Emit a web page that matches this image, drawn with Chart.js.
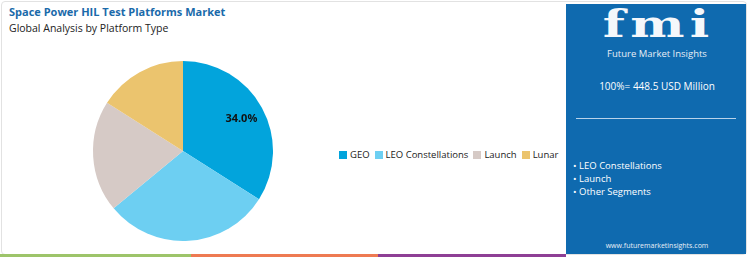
<!DOCTYPE html>
<html>
<head>
<meta charset="utf-8">
<script src="https://cdn.jsdelivr.net/npm/chart.js@4.4.1/dist/chart.umd.min.js"></script>
<style>
  html, body { margin: 0; padding: 0; background: #fff; }
  body { width: 750px; height: 258px; position: relative; overflow: hidden; font-family: "Open Sans", sans-serif; }
  .card { position: absolute; left: 1px; top: 1px; width: 746px; height: 254px; border: 1px solid #e2e2e2; border-radius: 4px; box-sizing: border-box; }
  .title { position: absolute; left: 9px; top: 4px; font-size: 11px; line-height: 15px; font-weight: 700; color: #1a6aaa; }
  .subtitle { position: absolute; left: 9px; top: 21px; font-size: 10.5px; line-height: 15px; color: #222; }
  #pieWrap { position: absolute; left: 88px; top: 56px; width: 190px; height: 190px; }
  #legend { position: absolute; left: 339px; top: 148px; font-size: 9.5px; line-height: 14px; color: #222; white-space: nowrap; display: flex; align-items: center; }
  #legend span.box { display: inline-block; width: 8px; height: 8px; margin-right: 3px; }
  #legend span.item { display: inline-flex; align-items: center; margin-right: 5px; }
  .stripe { position: absolute; top: 254px; height: 3px; }
  .panel { position: absolute; left: 566px; top: 4px; width: 180px; height: 250px; background: #0f6aaf; color: #fff; }
  .logo { position: absolute; left: 0; width: 180px; top: 1px; height: 38px; padding-left: 4px; box-sizing: border-box; text-align: center; font-family: "DejaVu Serif", serif; font-weight: 700; font-size: 38px; line-height: 38px; letter-spacing: 4px; color: #f4f7fb; transform: scaleX(1.35); }
  .logosub { position: absolute; left: 0; width: 182px; top: 44px; text-align: center; font-size: 9.5px; line-height: 12px; color: #e8eef6; }
  .total { position: absolute; left: 0; width: 182px; top: 75px; text-align: center; font-size: 10px; line-height: 14px; }
  .rule { position: absolute; left: 10px; width: 160px; top: 114px; border-top: 1px solid #b9d3ea; }
  .bul { position: absolute; left: 7px; font-size: 9.5px; line-height: 12px; white-space: nowrap; }
  .url { position: absolute; left: 0; width: 182px; top: 237px; text-align: center; font-size: 7px; line-height: 10px; color: #e8eef6; }
</style>
</head>
<body>
<div class="card"></div>
<div class="title">Space Power HIL Test Platforms Market</div>
<div class="subtitle">Global Analysis by Platform Type</div>
<div id="pieWrap"><canvas id="pieChart"></canvas></div>
<div id="legend"></div>
<div class="stripe" style="left:0;width:191px;background:#9dc46a"></div>
<div class="stripe" style="left:191px;width:187px;background:#ee7a52"></div>
<div class="stripe" style="left:378px;width:188px;background:#8e3f95"></div>
<div class="panel">
  <div class="logo">fmi</div>
  <div class="logosub">Future Market Insights</div>
  <div class="total">100%= 448.5 USD Million</div>
  <div class="rule"></div>
  <div class="bul" style="top:156px">&bull; LEO Constellations</div>
  <div class="bul" style="top:169px">&bull; Launch</div>
  <div class="bul" style="top:182px">&bull; Other Segments</div>
  <div class="url">www.futuremarketinsights.com</div>
</div>
<script>
const platformLabels = ['GEO', 'LEO Constellations', 'Launch', 'Lunar'];
const platformShares = [34.0, 30.0, 20.0, 16.0];
const sliceColors = ['#02a4dc', '#6dcff2', '#d6cac6', '#ebc46e'];
const labelledSlices = [0];

// writes the percentage on the labelled slices
const sliceLabelPlugin = {
    id: 'sliceLabel',
    afterDatasetsDraw(chart) {
        const ctx = chart.ctx;
        const meta = chart.getDatasetMeta(0);
        ctx.save();
        ctx.font = 'bold 11px "Open Sans", sans-serif';
        ctx.fillStyle = '#111';
        ctx.textAlign = 'center';
        ctx.textBaseline = 'middle';
        labelledSlices.forEach(i => {
            const arc = meta.data[i];
            const mid = (arc.startAngle + arc.endAngle) / 2;
            const r = arc.outerRadius * 0.74;
            ctx.fillText(platformShares[i].toFixed(1) + '%', arc.x + Math.cos(mid) * r, arc.y + Math.sin(mid) * r);
        });
        ctx.restore();
    }
};

const pieConfig = {
    type: 'pie',
    data: {
        labels: platformLabels,
        datasets: [{
            data: platformShares,
            backgroundColor: sliceColors,
            borderWidth: 0
        }]
    },
    options: {
        responsive: true,
        maintainAspectRatio: false,
        animation: false,
        layout: { padding: 5 },
        plugins: {
            legend: { display: false },
            tooltip: { enabled: false }
        }
    },
    plugins: [sliceLabelPlugin]
};

const pieChart = new Chart(document.getElementById('pieChart'), pieConfig);

// html legend built from the same arrays
const legendEl = document.getElementById('legend');
platformLabels.forEach((name, i) => {
    const item = document.createElement('span');
    item.className = 'item';
    item.innerHTML = '<span class="box" style="background:' + sliceColors[i] + '"></span>' + name;
    legendEl.appendChild(item);
});
</script>
</body>
</html>
